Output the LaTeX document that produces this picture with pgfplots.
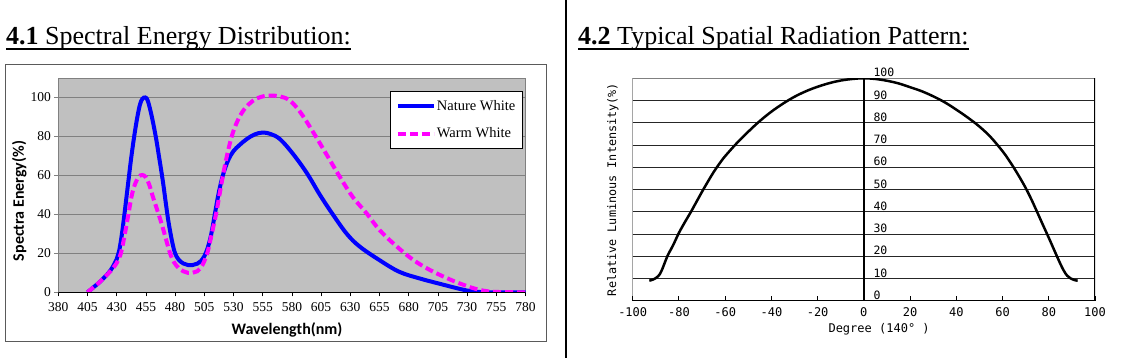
\documentclass[border=0pt]{standalone}
\usepackage{pgfplots}
\pgfplotsset{compat=1.18}
\usepackage{fontspec}
\setmainfont{Liberation Serif}
\newfontfamily\carlito{Carlito}
\newfontfamily\dmono{DejaVu Sans Mono}
\definecolor{bggray}{RGB}{192,192,192}
\definecolor{gridgray}{RGB}{128,128,128}
\definecolor{framegray}{RGB}{90,90,90}
\definecolor{nwblue}{RGB}{0,0,255}
\definecolor{wwmag}{RGB}{255,0,255}
\begin{document}
\begin{tikzpicture}
\useasboundingbox (0pt,0pt) rectangle (1127pt,358pt);
% titles
\node[anchor=base west, inner sep=0pt] (t1) at (6pt,313pt) {\fontsize{26}{28}\selectfont\textbf{4.1} Spectral Energy Distribution:};
\draw[line width=1.3pt] ([yshift=-4pt]t1.base west) -- ([yshift=-4pt]t1.base east);
\node[anchor=base west, inner sep=0pt] (t2) at (578pt,313pt) {\fontsize{26}{28}\selectfont\textbf{4.2} Typical Spatial Radiation Pattern:};
\draw[line width=1.3pt] ([yshift=-4pt]t2.base west) -- ([yshift=-4pt]t2.base east);
% separator and frame
\draw[black, line width=2pt] (565.5pt,0pt) -- (565.5pt,358pt);
\draw[framegray, line width=1pt] (5.5pt,16.5pt) rectangle (546pt,293pt);

\begin{axis}[
  at={(58.3pt,65.7pt)}, anchor=south west, scale only axis,
  width=467.2pt, height=214.3pt,
  xmin=380, xmax=780, ymin=0, ymax=110,
  xtick={380,405,...,780}, ytick={0,20,...,100},
  ymajorgrids, major grid style={draw=gridgray, line width=0.8pt},
  axis background/.style={fill=bggray},
  axis line style={draw=gridgray, line width=0.8pt},
  tick pos=left, tick align=outside, major tick length=4pt,
  xtick style={draw=black, line width=0.8pt},
  ytick style={draw=gridgray, line width=0.8pt},
  /pgf/number format/assume math mode=true,
  ticklabel style={font=\fontsize{13.5}{14}\selectfont},
  xticklabel style={yshift=-3pt},
  xlabel={Wavelength(nm)},
  xlabel style={font=\carlito\bfseries\fontsize{16}{18}\selectfont, at={(axis description cs:0.4895,-0.1773)}, anchor=center},
  ylabel={Spectra Energy(\%)},
  ylabel style={font=\carlito\bfseries\fontsize{16}{18}\selectfont, at={(axis description cs:-0.0835,0.426)}, anchor=center, rotate=0},
  legend style={at={(axis description cs:0.994,0.9393)}, anchor=north east, draw=black, line width=0.6pt, fill=white,
    font=\fontsize{14.5}{14.5}\selectfont, inner xsep=6pt, inner ysep=7pt, row sep=12pt,
    nodes={inner xsep=1pt}},
  legend cell align=left,
  legend image code/.code={\draw[#1] (0pt,0pt) -- (36pt,0pt);},
]
\addplot[nwblue, line width=4pt, smooth, tension=0.6] coordinates {
(405,0) (410,2.5) (415,5) (420,8) (425,11.5) (430,17) (432,21) (434,28) (436,37) (438,47)
(440,57) (442,67) (444,76) (446,84) (448,91) (450,96.5) (452,99.3) (454.5,100) (456.5,98.5)
(459,93) (461.5,86) (464,78) (466,70.5) (468,63) (470,55) (472,46) (474,37.5) (476,30.5)
(478,24.5) (480,20) (483,16.8) (487,14.8) (491,14) (495,14) (499,14.7) (502,16) (505,18.5)
(508,23) (511,30) (514,40) (517,50) (520,58) (523,64) (526,68.5) (530,72.5) (535,75.5) (541,78.5)
(548,81) (555,82) (562,81.2) (570,78.5) (581,71) (593,61) (604,50) (615,40) (627,30)
(638,23.5) (655,16.5) (672,10.5) (690,7) (707,4.3) (724,1.7) (732,0.7) (740,0.2) (750,0) (780,0)};
\addlegendentry{Nature White}
\addplot[wwmag, line width=4pt, dash pattern=on 8pt off 4pt, smooth, tension=0.6] coordinates {
(405,0) (410,2.5) (415,5) (420,8) (425,11) (430,15) (432,17.5) (434,21) (437,30) (440,40)
(443,50) (446,56) (449,59.3) (452,60.2) (455,59) (458,55) (461,49) (464,43.5) (467,38)
(470,32) (473,25.5) (476,19.5) (479,15.5) (483,12.5) (487,10.8) (491,10) (495,10) (499,10.8)
(502,12.5) (505,16) (508,21) (511,29) (515,40) (518,50) (521,60) (524,69) (528,79) (532,86)
(537,92) (543,96.5) (550,99.5) (557,100.8) (562,101) (570,100.5) (578,98.5) (587,92.6)
(598,82.4) (610,70.4) (621,59.3) (632,49) (644,40.5) (655,32) (670,23.4) (684,16.6)
(698,11.5) (713,7.2) (727,3.8) (741,1.2) (755,0.2) (780,0)};
\addlegendentry{Warm White}
\draw[black, line width=1pt] (rel axis cs:0,0) -- (rel axis cs:1,0);
\end{axis}

\begin{axis}[
  at={(632.7pt,57.3pt)}, anchor=south west, scale only axis,
  width=462.3pt, height=222.4pt,
  xmin=-100, xmax=100, ymin=0, ymax=100,
  xtick={-100,-80,...,100},
  xticklabels={-100,-80,-60,-40,-20,0,20,40,60,80,100},
  ytick={0,10,...,100},
  ymajorgrids, major grid style={draw=black!85, line width=0.8pt},
  axis line style={draw=none},
  tick pos=left, tick align=inside, major tick length=5pt,
  xtick style={draw=black, line width=1pt},
  ytick style={draw=none},
  /pgf/number format/assume math mode=true,
  ticklabel style={font=\dmono\fontsize{11.5}{12}\selectfont},
  xticklabel style={yshift=-3pt, font=\dmono\fontsize{12}{12}\selectfont},
  yticklabel style={anchor=south west, inner sep=0pt, xshift=240.6pt, yshift=1pt},
  xlabel={Degree (140° )},
  xlabel style={font=\dmono\fontsize{12}{14}\selectfont, at={(axis description cs:0.533,-0.13)}, anchor=center},
  ylabel={Relative Luminous Intensity(\%)},
  ylabel style={font=\dmono\fontsize{11.8}{14}\selectfont, at={(axis description cs:-0.0432,0.5)}, anchor=center},
]
\draw[gridgray, line width=0.8pt] (rel axis cs:0,1) -- (rel axis cs:1,1);
\draw[black, line width=1.5pt] (rel axis cs:0,0) -- (rel axis cs:0,1);
\draw[black, line width=1.5pt] (rel axis cs:0,0) -- (rel axis cs:1,0);
\draw[black, line width=1.5pt] (rel axis cs:1,0) -- (rel axis cs:1,1);
\draw[black, line width=1.5pt] (axis cs:0,0) -- (axis cs:0,100);
\addplot[black, line width=2.5pt, smooth, tension=0.6] coordinates {
(-92.8,9) (-91,9.6) (-89,11) (-87.5,13.5) (-85,20) (-82.5,25) (-80,30.5) (-77.5,35.2)
(-75,39.6) (-72.5,44.3) (-70,49) (-67.5,53.5) (-65,57.8) (-62.5,61.6) (-60,65) (-55,70.8)
(-50,76) (-45,80.8) (-40,85) (-35,88.6) (-30,91.7) (-25,94.2) (-20,96.2) (-15,97.8)
(-10,99) (-5,99.7) (0,100) (5,99.7) (10,98.9) (15,97.7) (20,96) (25,94.2) (30,91.9)
(35,89.2) (40,85.9) (45,82.3) (50,78.3) (55,73.4) (60,67.2) (62.5,63.6) (65,59.6)
(67.5,55.3) (70,50.7) (72.5,45.5) (75,39.8) (77.5,34) (80,28.3) (82.5,22.4) (85,16.6)
(86.5,13.5) (88,11.2) (89.5,10) (91,9.3) (92.5,9)};
\end{axis}
\end{tikzpicture}
\end{document}
